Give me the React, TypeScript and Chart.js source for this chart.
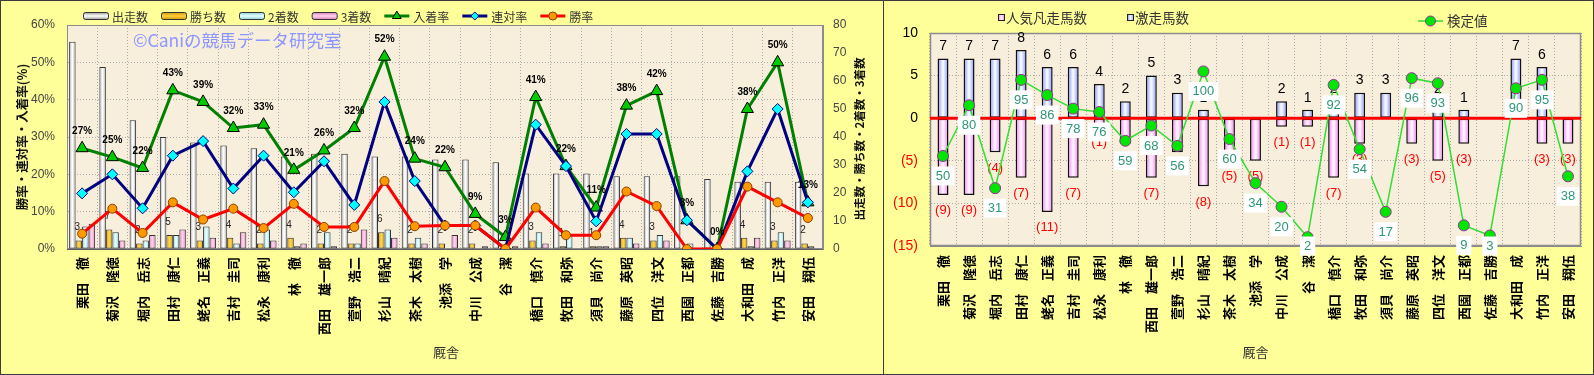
import React, { useEffect, useRef } from 'react';
import { Chart, registerables } from 'chart.js';

Chart.register(...registerables);

// ---------- data ----------
const trainers = ['栗田　徹', '菊沢　隆徳', '堀内　岳志', '田村　康仁', '蛯名　正義', '吉村　圭司', '松永　康利', '林　徹', '西田　雄一郎', '萱野　浩二', '杉山　晴紀', '茶木　太樹', '池添　学', '中川　公成', '谷　潔', '橋口　慎介', '牧田　和弥', '須貝　尚介', '藤原　英昭', '四位　洋文', '西園　正都', '佐藤　吉勝', '大和田　成', '竹内　正洋', '安田　翔伍'];

const starts = [74, 65, 46, 40, 38, 37, 36, 33, 34, 34, 33, 33, 32, 32, 31, 27, 27, 27, 26, 26, 26, 25, 24, 24, 24];
const wins = [3, 7, 2, 5, 3, 4, 2, 4, 2, 2, 6, 2, 2, 2, 0, 3, 1, 1, 4, 3, 0, 0, 4, 3, 2];
const seconds = [8, 6, 3, 5, 8, 2, 7, 1, 6, 2, 7, 4, 0, 0, 0, 6, 5, 1, 4, 5, 2, 0, 1, 6, 1];
const thirds = [9, 3, 5, 7, 4, 6, 3, 2, 1, 7, 4, 2, 5, 1, 1, 2, 0, 1, 2, 3, 0, 0, 4, 3, 0];

const winRate = [4.1, 10.8, 4.3, 12.5, 7.9, 10.8, 5.6, 12.1, 5.9, 5.9, 18.2, 6.1, 6.3, 6.3, 0, 11.1, 3.7, 3.7, 15.4, 11.5, 0, 0, 16.7, 12.5, 8.3];
const rentaiRate = [14.9, 20.0, 10.9, 25.0, 28.9, 16.2, 25.0, 15.2, 23.5, 11.8, 39.4, 18.2, 6.3, 6.3, 0, 33.3, 22.2, 7.4, 30.8, 30.8, 7.7, 0, 20.8, 37.5, 12.5];
const placeRate = [27.0, 24.6, 21.7, 42.5, 39.4, 32.4, 33.3, 21.2, 26.4, 32.4, 51.5, 24.2, 21.9, 9.4, 3.2, 40.7, 22.2, 11.1, 38.4, 42.3, 7.7, 0, 37.5, 50.0, 12.5];

const bonsou = [-9, -9, -4, -7, -11, -7, -1, -3, -7, -4, -8, -5, -5, -1, -1, -7, -3, 0, -3, -5, -3, 0, 0, -3, -3];
const gekisou = [7, 7, 7, 8, 6, 6, 4, 2, 5, 3, 1, 0, 0, 2, 1, 2, 3, 3, 0, 2, 1, 0, 7, 6, 0];
const kentei = [50, 80, 31, 95, 86, 78, 76, 59, 68, 56, 100, 60, 34, 20, 2, 92, 54, 17, 96, 93, 9, 3, 90, 95, 38];

const leftTicksPct = [0, 10, 20, 30, 40, 50, 60];
const rightTicks = [-15, -10, -5, 0, 5, 10];

// ---------- style ----------
const YELLOW = '#FFFF99';
const PLOT_BG = '#F7EEDC';
const GRID = '#A9A9A9';
const JP = '"Noto Sans CJK JP", "Noto Sans", sans-serif';
const LAT = '"Liberation Sans", Arial, sans-serif';

function hGradient(ctx: CanvasRenderingContext2D, x0: number, x1: number, edge: string, mid: string) {
  const g = ctx.createLinearGradient(x0, 0, x1, 0);
  g.addColorStop(0, edge);
  g.addColorStop(0.45, mid);
  g.addColorStop(0.55, mid);
  g.addColorStop(1, edge);
  return g;
}

function barFill(edge: string, mid: string, slot: number, nSlots: number, catPct: number, barPct: number) {
  return (c: any) => {
    if (c.type !== 'data') return edge;
    const chart = c.chart;
    const xs = chart.scales && chart.scales.x;
    if (!xs || !xs.width) return edge;
    const n = chart.data.labels.length;
    const cat = xs.width / n;
    const group = cat * catPct;
    const slotW = group / nSlots;
    const bw = slotW * barPct;
    const center = xs.getPixelForValue(c.dataIndex);
    const x0 = center - group / 2 + slot * slotW + (slotW - bw) / 2;
    return hGradient(chart.ctx, x0, x0 + bw, edge, mid);
  };
}

function marker(ctx: CanvasRenderingContext2D, kind: string, x: number, y: number, r: number, fill: string, stroke: string) {
  ctx.save();
  ctx.beginPath();
  if (kind === 'triangle') {
    ctx.moveTo(x, y - r);
    ctx.lineTo(x + r * 0.866, y + r * 0.5);
    ctx.lineTo(x - r * 0.866, y + r * 0.5);
    ctx.closePath();
  } else if (kind === 'diamond') {
    ctx.moveTo(x, y - r);
    ctx.lineTo(x + r, y);
    ctx.lineTo(x, y + r);
    ctx.lineTo(x - r, y);
    ctx.closePath();
  } else {
    ctx.arc(x, y, r, 0, Math.PI * 2);
  }
  ctx.fillStyle = fill;
  ctx.fill();
  ctx.lineWidth = 1;
  ctx.strokeStyle = stroke;
  ctx.stroke();
  ctx.restore();
}

function vText(ctx: CanvasRenderingContext2D, text: string, x: number, y: number, font: string, color: string) {
  ctx.save();
  ctx.translate(x, y);
  ctx.rotate(-Math.PI / 2);
  ctx.font = font;
  ctx.fillStyle = color;
  ctx.textAlign = 'center';
  ctx.textBaseline = 'middle';
  ctx.fillText(text, 0, 0);
  ctx.restore();
}

function roundRect(ctx: CanvasRenderingContext2D, x: number, y: number, w: number, h: number, r: number) {
  ctx.beginPath();
  ctx.moveTo(x + r, y);
  ctx.lineTo(x + w - r, y);
  ctx.quadraticCurveTo(x + w, y, x + w, y + r);
  ctx.lineTo(x + w, y + h - r);
  ctx.quadraticCurveTo(x + w, y + h, x + w - r, y + h);
  ctx.lineTo(x + r, y + h);
  ctx.quadraticCurveTo(x, y + h, x, y + h - r);
  ctx.lineTo(x, y + r);
  ctx.quadraticCurveTo(x, y, x + r, y);
  ctx.closePath();
}

// ---------- left chart ----------
const leftLegend = [
  { type: 'box', label: '出走数', edge: '#8E8E8E', mid: '#FFFFFF' },
  { type: 'box', label: '勝ち数', edge: '#C98E00', mid: '#FFD040' },
  { type: 'box', label: '2着数', edge: '#7CC6D8', mid: '#E8FFFF' },
  { type: 'box', label: '3着数', edge: '#D870B0', mid: '#FFD6EE' },
  { type: 'line', label: '入着率', color: '#008000', kind: 'triangle', fill: '#00CC00', stroke: '#000000', r: 5 },
  { type: 'line', label: '連対率', color: '#000080', kind: 'diamond', fill: '#00FFFF', stroke: '#000080', r: 4 },
  { type: 'line', label: '勝率', color: '#FF0000', kind: 'circle', fill: '#FF9900', stroke: '#8A4000', r: 4 },
];

const leftPlugin = {
  id: 'leftDecor',
  beforeDraw(chart: any) {
    const { ctx, chartArea: a, width, height } = chart;
    ctx.save();
    ctx.fillStyle = YELLOW;
    ctx.fillRect(0, 0, width, height);
    ctx.fillStyle = PLOT_BG;
    ctx.fillRect(a.left, a.top, a.right - a.left, a.bottom - a.top);
    ctx.restore();
  },
  beforeDatasetsDraw(chart: any) {
    const { ctx, chartArea: a } = chart;
    ctx.save();
    ctx.strokeStyle = '#8C8C8C';
    ctx.lineWidth = 1;
    ctx.strokeRect(a.left + 0.5, a.top + 0.5, a.right - a.left - 1, a.bottom - a.top - 1);
    ctx.font = `17.5px ${JP}`;
    ctx.fillStyle = 'rgb(140,150,255)';
    ctx.textAlign = 'left';
    ctx.textBaseline = 'middle';
    ctx.fillText('©Caniの競馬データ研究室', a.left + 66, a.top + 15);
    ctx.restore();
  },
  afterDatasetDraw(chart: any, args: any) {
    if (args.index !== 3) return;
    const { ctx } = chart;
    const meta = chart.getDatasetMeta(4);
    ctx.save();
    ctx.font = `10px ${LAT}`;
    ctx.fillStyle = '#222222';
    ctx.textAlign = 'center';
    ctx.textBaseline = 'middle';
    meta.data.forEach((el: any, i: number) => {
      if (wins[i] > 0) ctx.fillText(String(wins[i]), el.x - 1.5, el.y - 13);
    });
    ctx.restore();
  },
  afterDatasetsDraw(chart: any) {
    const { ctx } = chart;
    const meta = chart.getDatasetMeta(2);
    ctx.save();
    ctx.font = `bold 10px ${LAT}`;
    ctx.fillStyle = '#000000';
    ctx.textAlign = 'center';
    ctx.textBaseline = 'middle';
    meta.data.forEach((el: any, i: number) => {
      ctx.fillText(`${Math.round(placeRate[i])}%`, el.x, el.y - 17);
    });
    ctx.restore();
  },
  afterDraw(chart: any) {
    const { ctx, chartArea: a } = chart;
    ctx.save();
    ctx.font = `12px ${JP}`;
    ctx.textBaseline = 'middle';
    ctx.textAlign = 'left';
    let x = a.left + 16;
    const y = 15;
    leftLegend.forEach((it: any) => {
      if (it.type === 'box') {
        const g = ctx.createLinearGradient(0, y - 4, 0, y + 4);
        g.addColorStop(0, it.edge);
        g.addColorStop(0.5, it.mid);
        g.addColorStop(1, it.edge);
        roundRect(ctx, x + 0.5, y - 3.5, 25, 7, 2);
        ctx.fillStyle = g;
        ctx.fill();
        ctx.strokeStyle = '#333333';
        ctx.lineWidth = 1;
        ctx.stroke();
      } else {
        ctx.beginPath();
        ctx.moveTo(x, y);
        ctx.lineTo(x + 25, y);
        ctx.strokeStyle = it.color;
        ctx.lineWidth = 3;
        ctx.stroke();
        marker(ctx, it.kind, x + 12.5, y, it.r, it.fill, it.stroke);
      }
      ctx.fillStyle = '#333333';
      ctx.fillText(it.label, x + 29, y + 1);
      x += 29 + ctx.measureText(it.label).width + 13;
    });
    ctx.restore();
    const cy = (a.top + a.bottom) / 2;
    vText(ctx, '勝率・連対率・入着率(%)', 21, cy, `bold 12.5px ${JP}`, '#111111');
    vText(ctx, '出走数・勝ち数・2着数・3着数', a.right + 37, cy + 2, `bold 11.5px ${JP}`, '#111111');
    ctx.save();
    ctx.font = `13px ${JP}`;
    ctx.fillStyle = '#333333';
    ctx.textAlign = 'center';
    ctx.textBaseline = 'middle';
    ctx.fillText('厩舎', (a.left + a.right) / 2 + 1, 351);
    ctx.restore();
  },
};

function makeLeft(): any {
  const CAT = 0.86;
  const BAR = 1.0;
  const barDs = (label: string, data: number[], edge: string, mid: string, slot: number) => ({
    type: 'bar',
    label,
    data,
    yAxisID: 'y1',
    order: 10,
    categoryPercentage: CAT,
    barPercentage: BAR,
    backgroundColor: barFill(edge, mid, slot, 4, CAT, BAR),
    borderColor: '#333333',
    borderWidth: (c: any) => (c.raw === 0 ? 0 : 1),
    borderSkipped: false,
  });
  return {
    type: 'bar',
    data: {
      labels: trainers,
      datasets: [
        { type: 'line', label: '勝率', data: winRate, yAxisID: 'y', order: 1, borderColor: '#FF0000', borderWidth: 3, pointStyle: 'circle', pointRadius: 4.5, pointBackgroundColor: '#FF9900', pointBorderColor: '#8A4000', pointBorderWidth: 1 },
        { type: 'line', label: '連対率', data: rentaiRate, yAxisID: 'y', order: 2, borderColor: '#000080', borderWidth: 3, pointStyle: 'rectRot', pointRadius: 5.5, pointBackgroundColor: '#00FFFF', pointBorderColor: '#000080', pointBorderWidth: 1 },
        { type: 'line', label: '入着率', data: placeRate, yAxisID: 'y', order: 3, borderColor: '#008000', borderWidth: 3, pointStyle: 'triangle', pointRadius: 7, pointBackgroundColor: '#00CC00', pointBorderColor: '#000000', pointBorderWidth: 1 },
        barDs('出走数', starts, '#A4A4A4', '#FFFFFF', 0),
        barDs('勝ち数', wins, '#D49A00', '#FFD24A', 1),
        barDs('2着数', seconds, '#86D0E2', '#E6FFFF', 2),
        barDs('3着数', thirds, '#E27EBE', '#FFD0EC', 3),
      ],
    },
    options: {
      responsive: false,
      devicePixelRatio: 1,
      animation: false,
      layout: { padding: { top: 24, left: 0, right: 0, bottom: 0 } },
      plugins: { legend: { display: false }, tooltip: { enabled: false } },
      scales: {
        x: {
          offset: true,
          grid: { color: GRID, drawTicks: false, offset: true },
          border: { color: '#606060', dash: [1, 2] },
          ticks: { autoSkip: false, minRotation: 90, maxRotation: 90, padding: 8, color: '#000000', font: { family: JP, size: 13, weight: 'bold' } },
          afterFit: (s: any) => { s.height = 125; },
        },
        y: {
          position: 'left',
          min: leftTicksPct[0],
          max: leftTicksPct[leftTicksPct.length - 1],
          afterBuildTicks: (s: any) => { s.ticks = leftTicksPct.map((v) => ({ value: v })); },
          grid: { color: GRID, drawTicks: false },
          border: { color: '#606060', dash: [1, 2] },
          ticks: { padding: 12, color: '#444444', font: { family: LAT, size: 12 }, callback: (v: any) => `${v}%` },
          afterFit: (s: any) => { s.width = 66; },
        },
        y1: {
          position: 'right',
          min: 0,
          max: 80,
          grid: { drawOnChartArea: false, drawTicks: false },
          border: { color: '#8C8C8C' },
          ticks: { stepSize: 10, padding: 10, color: '#444444', font: { family: LAT, size: 12 } },
          afterFit: (s: any) => { s.width = 60; },
        },
      },
    },
    plugins: [leftPlugin],
  };
}

// ---------- right chart ----------
const rightPlugin = {
  id: 'rightDecor',
  beforeDraw(chart: any) {
    const { ctx, chartArea: a, width, height } = chart;
    ctx.save();
    ctx.fillStyle = YELLOW;
    ctx.fillRect(0, 0, width, height);
    ctx.fillStyle = PLOT_BG;
    ctx.fillRect(a.left, a.top, a.right - a.left, a.bottom - a.top);
    ctx.restore();
  },
  beforeDatasetsDraw(chart: any) {
    const { ctx, chartArea: a } = chart;
    ctx.save();
    ctx.strokeStyle = '#8C8C8C';
    ctx.lineWidth = 1.5;
    ctx.strokeRect(a.left + 0.5, a.top + 0.5, a.right - a.left - 1, a.bottom - a.top - 1);
    ctx.restore();
  },
  afterDatasetDraw(chart: any, args: any) {
    if (args.index !== 1) return;
    const { ctx } = chart;
    const blue = chart.getDatasetMeta(2);
    const pink = chart.getDatasetMeta(1);
    ctx.save();
    ctx.textAlign = 'center';
    ctx.textBaseline = 'middle';
    ctx.font = `14px ${LAT}`;
    ctx.fillStyle = '#000000';
    blue.data.forEach((el: any, i: number) => {
      if (gekisou[i] > 0) ctx.fillText(String(gekisou[i]), el.x, el.y - 12);
    });
    ctx.font = `13px ${LAT}`;
    ctx.fillStyle = '#FF0000';
    pink.data.forEach((el: any, i: number) => {
      if (bonsou[i] < 0) ctx.fillText(`(${-bonsou[i]})`, el.x, el.y + 16);
    });
    ctx.restore();
  },
  beforeDatasetDraw(chart: any, args: any) {
    if (args.index !== 0) return;
    const { ctx, chartArea: a } = chart;
    const y0 = chart.scales.y.getPixelForValue(0);
    ctx.save();
    ctx.strokeStyle = '#FF0000';
    ctx.lineWidth = 3;
    ctx.beginPath();
    ctx.moveTo(a.left, y0);
    ctx.lineTo(a.right, y0);
    ctx.stroke();
    ctx.restore();
  },
  afterDatasetsDraw(chart: any) {
    const { ctx, chartArea: a } = chart;
    const meta = chart.getDatasetMeta(0);
    ctx.save();
    ctx.font = `13px ${LAT}`;
    ctx.textAlign = 'center';
    ctx.textBaseline = 'middle';
    meta.data.forEach((el: any, i: number) => {
      const t = String(kentei[i]);
      const w = ctx.measureText(t).width;
      const ly = Math.min(el.y + 20, a.bottom);
      ctx.fillStyle = '#FFFFFF';
      ctx.fillRect(el.x - w / 2 - 4, ly - 9.5, w + 8, 19);
      ctx.fillStyle = '#2E9676';
      ctx.fillText(t, el.x, ly + 0.5);
    });
    ctx.restore();
  },
  afterDraw(chart: any) {
    const { ctx, chartArea: a } = chart;
    ctx.save();
    ctx.font = `13.5px ${JP}`;
    ctx.textAlign = 'left';
    ctx.textBaseline = 'middle';
    const drawBox = (x: number, y: number, edge: string, mid: string) => {
      const g = ctx.createLinearGradient(x, 0, x + 7, 0);
      g.addColorStop(0, edge);
      g.addColorStop(0.5, mid);
      g.addColorStop(1, edge);
      ctx.fillStyle = g;
      ctx.fillRect(x, y - 3.5, 7, 7);
      ctx.strokeStyle = '#222222';
      ctx.lineWidth = 1;
      ctx.strokeRect(x + 0.5, y - 3, 6, 6);
    };
    drawBox(114, 16.5, '#F07CF0', '#FFF0FF');
    ctx.fillStyle = '#333333';
    ctx.fillText('人気凡走馬数', 122, 17);
    drawBox(243, 16.5, '#7C8CFF', '#F4F6FF');
    ctx.fillStyle = '#333333';
    ctx.fillText('激走馬数', 251, 17);
    ctx.strokeStyle = '#33DD33';
    ctx.lineWidth = 1.5;
    ctx.beginPath();
    ctx.moveTo(534, 20);
    ctx.lineTo(559, 20);
    ctx.stroke();
    marker(ctx, 'circle', 546.5, 20, 5, '#00E600', '#993399');
    ctx.fillStyle = '#333333';
    ctx.fillText('検定値', 563, 20);
    ctx.font = `13px ${JP}`;
    ctx.textAlign = 'center';
    ctx.fillText('厩舎', (a.left + a.right) / 2, 351);
    ctx.restore();
  },
};

function makeRight(): any {
  const CAT = 1.0;
  const BAR = 0.42;
  const barDs = (label: string, data: number[], edge: string, mid: string) => ({
    type: 'bar',
    label,
    data,
    yAxisID: 'y',
    stack: 's',
    order: 10,
    categoryPercentage: CAT,
    barPercentage: BAR,
    backgroundColor: barFill(edge, mid, 0, 1, CAT, BAR),
    borderColor: '#111111',
    borderWidth: (c: any) => (c.raw === 0 ? 0 : 1.5),
    borderSkipped: false,
  });
  return {
    type: 'bar',
    data: {
      labels: trainers,
      datasets: [
        { type: 'line', label: '検定値', data: kentei, yAxisID: 'y2', order: 0, borderColor: '#33DD33', borderWidth: 1.5, pointStyle: 'circle', pointRadius: 5.5, pointBackgroundColor: '#00E600', pointBorderColor: '#993399', pointBorderWidth: 1 },
        barDs('人気凡走馬数', bonsou, '#F07CF0', '#FFF0FF'),
        barDs('激走馬数', gekisou, '#7C8CFF', '#F4F6FF'),
      ],
    },
    options: {
      responsive: false,
      devicePixelRatio: 1,
      animation: false,
      layout: { padding: { top: 32, left: 0, right: 12, bottom: 0 } },
      plugins: { legend: { display: false }, tooltip: { enabled: false } },
      scales: {
        x: {
          stacked: true,
          offset: true,
          grid: { color: GRID, drawTicks: false, offset: true },
          border: { color: '#8C8C8C', dash: [1, 2] },
          ticks: { autoSkip: false, minRotation: 90, maxRotation: 90, padding: 9, color: '#000000', font: { family: JP, size: 13, weight: 'bold' } },
          afterFit: (s: any) => { s.height = 128; },
        },
        y: {
          stacked: true,
          position: 'left',
          min: rightTicks[0],
          max: rightTicks[rightTicks.length - 1],
          afterBuildTicks: (s: any) => { s.ticks = rightTicks.map((v) => ({ value: v })); },
          grid: { color: GRID, drawTicks: false },
          border: { color: '#8C8C8C', dash: [1, 2] },
          ticks: {
            padding: 12,
            font: { family: LAT, size: 14 },
            color: (c: any) => (c.tick && c.tick.value < 0 ? '#FF0000' : '#000000'),
            callback: (v: any) => (v < 0 ? `(${-v})` : `${v}`),
          },
          afterFit: (s: any) => { s.width = 46; },
        },
        y2: { display: false, min: -3.2, max: 122.7 },
      },
    },
    plugins: [rightPlugin],
  };
}

export default function App() {
  const leftRef = useRef<HTMLCanvasElement>(null);
  const rightRef = useRef<HTMLCanvasElement>(null);
  useEffect(() => {
    document.body.style.margin = '0';
    const c1 = new Chart(leftRef.current as HTMLCanvasElement, makeLeft());
    const c2 = new Chart(rightRef.current as HTMLCanvasElement, makeRight());
    return () => {
      c1.destroy();
      c2.destroy();
    };
  }, []);
  return (
    <div style={{ position: 'relative', width: 1594, height: 375, background: YELLOW, overflow: 'hidden' }}>
      <div style={{ position: 'absolute', left: 0, top: 0, width: 884, height: 375, border: '1px solid #3C3C3C', boxSizing: 'border-box' }}>
        <canvas ref={leftRef} width={882} height={373} style={{ display: 'block', width: 882, height: 373 }} />
      </div>
      <div style={{ position: 'absolute', left: 883, top: 0, width: 711, height: 375, border: '1px solid #3C3C3C', boxSizing: 'border-box' }}>
        <canvas ref={rightRef} width={709} height={373} style={{ display: 'block', width: 709, height: 373 }} />
      </div>
    </div>
  );
}
